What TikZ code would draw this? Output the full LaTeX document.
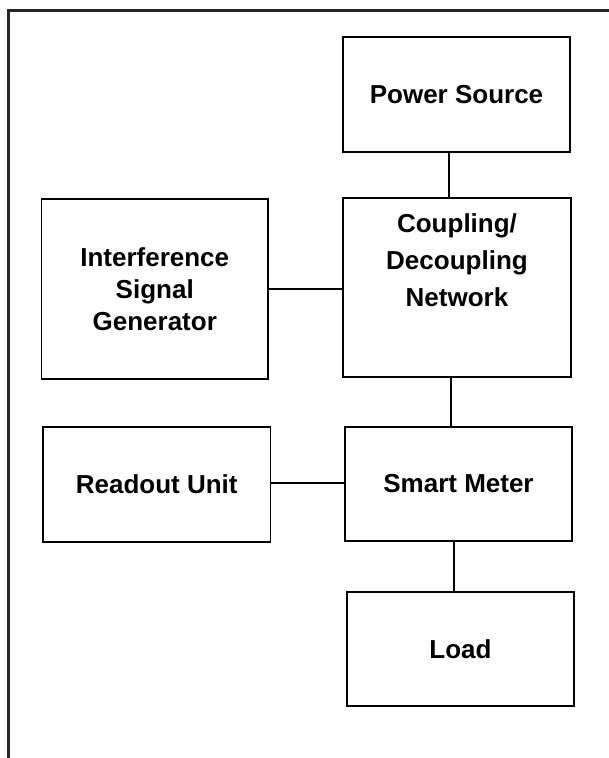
\documentclass[tikz,border=0pt]{standalone}
\usepackage{fontspec}
\setmainfont{Liberation Sans}
\begin{document}
\begin{tikzpicture}[x=1pt,y=-1pt,
  blk/.style={draw=black, line width=1.6pt, rectangle, outer sep=0pt, inner sep=0pt,
    font=\bfseries\fontsize{26}{32}\selectfont, align=center},
  lnk/.style={draw=black, line width=1.4pt},
  frm/.style={draw=black!85, line width=2.2pt}]
\useasboundingbox (0,0) rectangle (609,758);

% open frame: top and left edges only
\coordinate (ftl) at (8.5,10.5);
\coordinate (ftr) at (609,10.5);
\coordinate (fbl) at (8.5,758);
\draw[frm] (ftr) -- (ftl) -- (fbl);

% blocks
\node[blk, minimum width=227pt, minimum height=115pt] (ps) at (456.5,94.5) {\raisebox{-1.5pt}{Power Source}};
\node[blk, minimum width=228pt, minimum height=179pt] (cd) at (457,287.5) {};
\node[font=\bfseries\fontsize{26}{37}\selectfont, align=center] (cdt) at (457,260) {Coupling/\\Decoupling\\Network};
\node[blk, minimum width=226.5pt, minimum height=180pt] (isg) at (154.75,289) {Interference\\Signal\\Generator};
\node[blk, minimum width=227.5pt, minimum height=115pt] (ru) at (156.75,484.5) {\raisebox{-1.5pt}{Readout Unit}};
\node[blk, minimum width=227pt, minimum height=114pt] (sm) at (458.5,484) {\raisebox{-1.5pt}{Smart Meter}};
\node[blk, minimum width=227pt, minimum height=114pt] (ld) at (460.5,649) {\raisebox{-1.5pt}{Load}};

% links
\draw[lnk] ([xshift=-7.5pt]ps.south) coordinate (a1) -- (a1 |- cd.north);
\draw[lnk] ([yshift=0pt]isg.east) coordinate (a2) -- (a2 -| cd.west);
\draw[lnk] ([xshift=-6pt]cd.south) coordinate (a3) -- (a3 |- sm.north);
\draw[lnk] ([yshift=1.5pt]ru.east) coordinate (a4) -- (a4 -| sm.west);
\draw[lnk] ([xshift=-4.5pt]sm.south) coordinate (a5) -- (a5 |- ld.north);
\end{tikzpicture}
\end{document}
